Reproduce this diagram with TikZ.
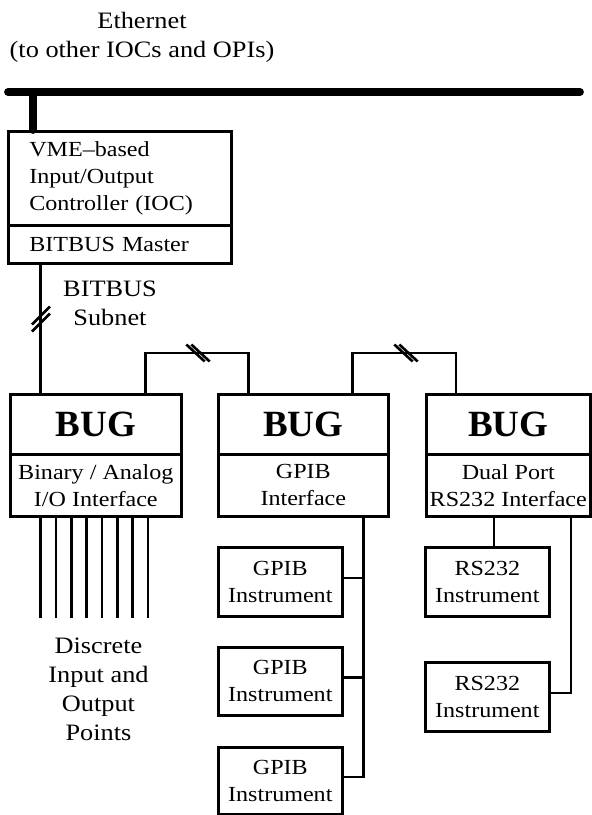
\documentclass[tikz,border=0pt]{standalone}
\usepackage{fontspec}
\setmainfont{Liberation Serif}
\newfontfamily\largo{Liberation Serif}[FakeStretch=1.12]

\begin{document}
\begin{tikzpicture}[x=1pt,y=-1pt,
  filo/.style={line width=2.6pt},
  eth/.style={line width=7.8pt,line cap=round},
  cella/.style={draw,line width=2.6pt,inner sep=2pt,align=center,anchor=north west},
  testo/.style={font=\largo\fontsize{21.5}{26.8}\selectfont},
  bug/.style={font=\fontsize{37}{40}\selectfont\bfseries},
  etich/.style={font=\largo\fontsize{23.5}{29.2}\selectfont,align=center}]
\useasboundingbox (0,0) rectangle (592,815);
% bus ethernet in alto con la presa dell'IOC
\coordinate (ethS) at (8,92);
\coordinate (ethE) at (580,92);
\coordinate (presa) at (33,92);
\node[etich] (eth) at (142,37.4) {Ethernet\\(to other IOCs and OPIs)};
% IOC su VME con il master BITBUS
\node[cella,testo,align=left,inner xsep=21pt,text width=181pt,minimum height=94pt] (iocup) at (7,130) {VME–based\\Input/Output\\Controller (IOC)};
\node[cella,testo,align=left,inner xsep=21pt,text width=181pt,minimum height=38pt] (iocdn) at (7,224) {BITBUS Master};
\draw[eth] (ethS) -- (ethE);
\draw[eth] (presa) -- (presa |- iocup.north);
% i tre BUG
\node[cella,bug,minimum width=171pt,minimum height=60pt] (bugAup) at (9,393) {BUG};
\node[cella,testo,minimum width=171pt,minimum height=62pt] (bugAdn) at (9,453) {Binary / Analog\\I/O Interface};
\node[cella,bug,minimum width=170pt,minimum height=60pt] (bugBup) at (217,393) {BUG};
\node[cella,testo,minimum width=170pt,minimum height=62pt] (bugBdn) at (217,453) {GPIB\\Interface};
\node[cella,bug,minimum width=164pt,minimum height=60pt] (bugCup) at (425,393) {BUG};
\node[cella,testo,minimum width=164pt,minimum height=62pt] (bugCdn) at (425,453) {Dual Port\\RS232 Interface};
% sottorete BITBUS
\node[etich] (sub) at (110,303.6) {BITBUS\\Subnet};
\draw[filo] ([xshift=33.7pt]iocdn.south west) -- ([xshift=31.7pt]bugAup.north west);
\draw[filo] ([xshift=136.7pt]bugAup.north west) -- ++(0,-40) -| ([xshift=31.3pt]bugBup.north west);
\draw[filo] ([xshift=135.7pt]bugBup.north west) -- ++(0,-40) -| ([xshift=31pt]bugCup.north west);
% tagli sui collegamenti
\coordinate (tA) at (41,319);
\coordinate (tB) at (198,353);
\coordinate (tC) at (406,353);
\foreach \d in {-3.5,3.5} \draw[filo] (tA) ++(-9,9+\d) -- ++(18,-18);
\foreach \d in {-2.5,2.5} {
  \draw[filo] (tB) ++(-9.2+\d,-8.5) -- ++(18.4,17);
  \draw[filo] (tC) ++(-9.2+\d,-8.5) -- ++(18.4,17);
}
% punti discreti di ingresso e uscita
\foreach \i in {0,...,7} \draw[filo] ([xshift=\i*15.33pt+31.7pt]bugAdn.south west) -- ++(0,100);
\node[etich] (punti) at (98.5,689.5) {Discrete\\Input and\\Output\\Points};
% strumenti GPIB sul bus
\node[cella,testo,minimum width=124pt,minimum height=69pt] (gpA) at (217,546) {GPIB\\Instrument};
\node[cella,testo,minimum width=124pt,minimum height=68pt] (gpB) at (217,646) {GPIB\\Instrument};
\node[cella,testo,minimum width=124pt,minimum height=67pt] (gpC) at (217,746) {GPIB\\Instrument};
\coordinate (gbus) at ([xshift=146.3pt]bugBdn.south west);
\draw[filo] (gbus) |- ([yshift=3.7pt]gpC.east);
\draw[filo] ([yshift=3.7pt]gpA.east) -- ([yshift=3.7pt]gpA.east -| gbus);
\draw[filo] ([yshift=3.7pt]gpB.east) -- ([yshift=3.7pt]gpB.east -| gbus);
% strumenti RS232 sulle due porte
\node[cella,testo,minimum width=124pt,minimum height=69pt] (rsA) at (424,546) {RS232\\Instrument};
\node[cella,testo,minimum width=124pt,minimum height=69pt] (rsB) at (424,661) {RS232\\Instrument};
\draw[filo] ([xshift=69pt]bugCdn.south west) coordinate (rp) -- (rp |- rsA.north);
\draw[filo] ([xshift=146pt]bugCdn.south west) |- ([yshift=3.8pt]rsB.east);
\end{tikzpicture}
\end{document}
